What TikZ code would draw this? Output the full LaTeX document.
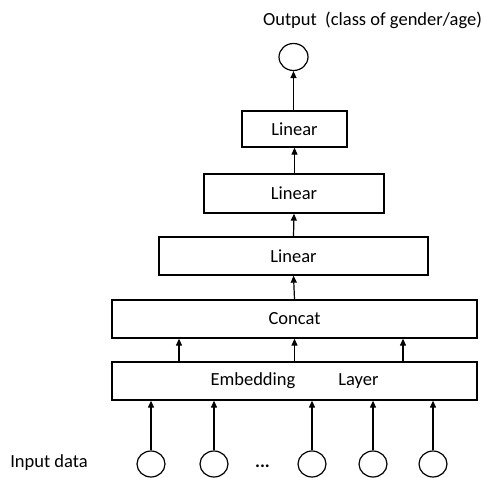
\documentclass[tikz,border=0pt]{standalone}
\usepackage{fontspec}
\setmainfont{Carlito}
\usetikzlibrary{arrows.meta,shapes.geometric}
\begin{document}
\begin{tikzpicture}[x=1pt,y=-1pt,
  every node/.style={font=\fontsize{18.5}{22}\selectfont},
  layer/.style={draw,line width=1.3pt,rectangle,inner sep=0pt},
  unit/.style={draw,line width=1.2pt,ellipse,inner sep=0pt,minimum width=28pt,minimum height=26pt},
  conn/.style={line width=1.2pt,-{Triangle[length=7pt,width=6pt]}},
  lbl/.style={inner sep=0pt}]
\useasboundingbox (0,0) rectangle (484,478);
\node[layer,minimum width=105pt,minimum height=36pt] (lin1) at (294.5,129) {Linear};
\node[layer,minimum width=180pt,minimum height=39pt] (lin2) at (294,193.5) {Linear};
\node[layer,minimum width=269pt,minimum height=38pt] (lin3) at (293.5,256) {Linear};
\node[layer,minimum width=365pt,minimum height=38pt] (cat) at (294.5,319) {Concat};
\node[layer,minimum width=365pt,minimum height=38pt] (emb) at (294.5,381) {Embedding\hspace{43pt}Layer};
\node[unit,minimum width=29pt,minimum height=27pt] (out) at (293.5,57) {};
\node[lbl] (outl) at (372.5,20) {Output\ \ (class of gender/age)};
\node[lbl] (inl) at (49,463) {Input data};
\node[unit] (i1) at (151,464) {};
\node[unit] (i2) at (214,464) {};
\node[lbl] (dots) at (262.5,466) {\textbf{...}};
\node[unit] (i3) at (312,464) {};
\node[unit] (i4) at (373,464) {};
\node[unit] (i5) at (433,464) {};
\draw[conn] (lin1.north -| out) -- (out.south);
\draw[conn] (lin2.north -| lin1.south) -- (lin1.south);
\draw[conn] (lin3.north) -- (lin2.south);
\draw[conn] (cat.north) -- (lin3.south);
\coordinate (c1) at (179,338);
\coordinate (c3) at (403,338);
\draw[conn] (c1 |- emb.north) -- (c1 |- cat.south);
\draw[conn] (emb.north) -- (cat.south);
\draw[conn] (c3 |- emb.north) -- (c3 |- cat.south);
\foreach \n in {i1,i2,i3,i4,i5}{
  \draw[conn] (\n.north) -- (\n |- emb.south);
}
\end{tikzpicture}
\end{document}
